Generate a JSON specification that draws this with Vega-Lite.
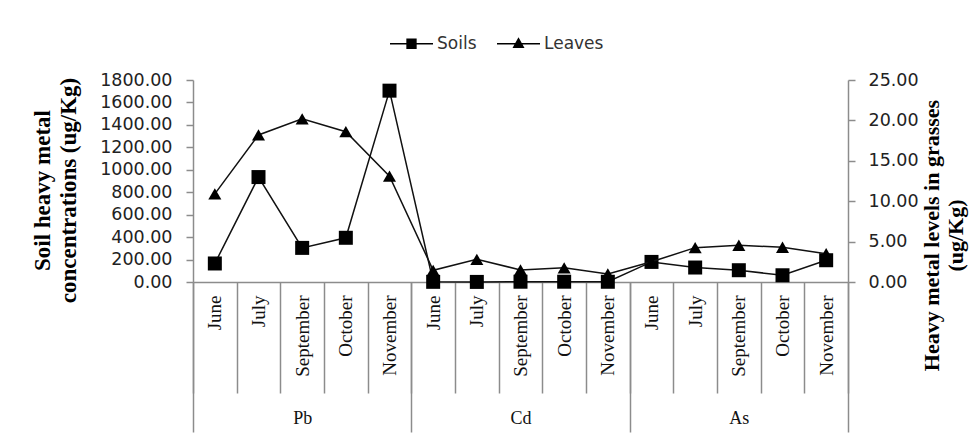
{
  "$schema": "https://vega.github.io/schema/vega-lite/v6.json",
  "width": 655,
  "height": 202,
  "autosize": {"type": "none"},
  "padding": {"left": 193, "top": 80, "right": 124, "bottom": 152},
  "background": "white",
  "config": {
    "view": {"stroke": null},
    "axis": {"domainColor": "#8c8c8c", "tickColor": "#8c8c8c", "domainWidth": 1.5, "tickWidth": 1.5, "grid": false}
  },
  "datasets": {
    "chart": [
      {"metal": "Pb", "month": "June", "cat": "Pb June", "soils": 165, "leaves": 10.9},
      {"metal": "Pb", "month": "July", "cat": "Pb July", "soils": 935, "leaves": 18.2},
      {"metal": "Pb", "month": "September", "cat": "Pb September", "soils": 304, "leaves": 20.2},
      {"metal": "Pb", "month": "October", "cat": "Pb October", "soils": 394, "leaves": 18.6},
      {"metal": "Pb", "month": "November", "cat": "Pb November", "soils": 1705, "leaves": 13.1},
      {"metal": "Cd", "month": "June", "cat": "Cd June", "soils": 1.5, "leaves": 1.45},
      {"metal": "Cd", "month": "July", "cat": "Cd July", "soils": 0.8, "leaves": 2.8},
      {"metal": "Cd", "month": "September", "cat": "Cd September", "soils": 2.5, "leaves": 1.5},
      {"metal": "Cd", "month": "October", "cat": "Cd October", "soils": 2.6, "leaves": 1.75},
      {"metal": "Cd", "month": "November", "cat": "Cd November", "soils": 2.1, "leaves": 1.0},
      {"metal": "As", "month": "June", "cat": "As June", "soils": 179, "leaves": 2.5},
      {"metal": "As", "month": "July", "cat": "As July", "soils": 129, "leaves": 4.25},
      {"metal": "As", "month": "September", "cat": "As September", "soils": 105, "leaves": 4.55},
      {"metal": "As", "month": "October", "cat": "As October", "soils": 60, "leaves": 4.3},
      {"metal": "As", "month": "November", "cat": "As November", "soils": 194, "leaves": 3.5}
    ],
    "series": [{"series": "Soils"}, {"series": "Leaves"}]
  },
  "layer": [
    {
      "data": {"name": "chart"},
      "encoding": {
        "x": {
          "field": "cat", "type": "nominal", "sort": null,
          "scale": {"type": "band", "paddingInner": 0, "paddingOuter": 0},
          "axis": {
            "title": null, "orient": "bottom", "tickBand": "extent", "tickSize": 111,
            "labelAngle": -90, "labelAlign": "right", "labelBaseline": "middle",
            "labelPadding": -98, "labelFont": "Liberation Serif", "labelFontSize": 19,
            "labelColor": "#111", "labelOverlap": false, "labelBound": false,
            "labelExpr": "split(datum.label, ' ')[1]"
          }
        },
        "y": {
          "field": "soils", "type": "quantitative",
          "scale": {"domain": [0, 1800], "nice": false, "zero": true},
          "axis": {
            "orient": "left", "values": [0, 200, 400, 600, 800, 1000, 1200, 1400, 1600, 1800],
            "format": ".2f", "tickSize": 7, "labelPadding": 14,
            "labelFont": "DejaVu Sans", "labelFontSize": 17.5, "labelColor": "#222",
            "title": ["Soil heavy metal", "concentrations  (ug/Kg)"],
            "titleFont": "Liberation Serif", "titleFontSize": 23, "titleFontWeight": "bold",
            "titleColor": "#000", "titleAngle": -90, "titleAlign": "center", "titleBaseline": "top",
            "titleX": -162, "titleY": 110, "titleLineHeight": 26
          }
        }
      },
      "layer": [
        {"mark": {"type": "line", "color": "#111", "strokeWidth": 1.5}},
        {"mark": {"type": "point", "shape": "square", "filled": true, "size": 196, "color": "#000", "opacity": 1}}
      ]
    },
    {
      "data": {"name": "chart"},
      "encoding": {
        "x": {
          "field": "cat", "type": "nominal", "sort": null,
          "scale": {"type": "band", "paddingInner": 0, "paddingOuter": 0},
          "axis": null
        },
        "y": {
          "field": "leaves", "type": "quantitative",
          "scale": {"domain": [0, 25], "nice": false, "zero": true},
          "axis": {
            "orient": "right", "values": [0, 5, 10, 15, 20, 25],
            "format": ".2f", "tickSize": 7, "labelPadding": 13,
            "labelFont": "DejaVu Sans", "labelFontSize": 17.5, "labelColor": "#222",
            "title": ["Heavy metal levels in  grasses", "(ug/Kg)"],
            "titleFont": "Liberation Serif", "titleFontSize": 22, "titleFontWeight": "bold",
            "titleColor": "#000", "titleAngle": -90, "titleAlign": "center", "titleBaseline": "top",
            "titleX": 73, "titleY": 155, "titleLineHeight": 24
          }
        }
      },
      "layer": [
        {"mark": {"type": "line", "color": "#111", "strokeWidth": 1.5}},
        {"mark": {"type": "point", "shape": "triangle-up", "filled": true, "size": 170, "color": "#000", "opacity": 1}}
      ]
    },
    {
      "data": {"name": "chart"},
      "mark": {"type": "point", "opacity": 0},
      "encoding": {
        "x": {
          "field": "metal", "type": "nominal", "sort": null,
          "scale": {"type": "band", "paddingInner": 0, "paddingOuter": 0},
          "axis": {
            "title": null, "orient": "bottom", "domain": false, "tickBand": "extent", "tickSize": 150,
            "labelAngle": 0, "labelPadding": -23, "labelFont": "Liberation Serif", "labelFontSize": 18,
            "labelColor": "#111", "labelBaseline": "top"
          }
        }
      }
    },
    {
      "data": {"name": "series"},
      "mark": {"type": "point", "opacity": 0, "filled": true, "color": "#000"},
      "encoding": {
        "shape": {
          "field": "series", "type": "nominal", "sort": null,
          "scale": {
            "domain": ["Soils", "Leaves"],
            "range": [
              "M-1,-0.035H1V0.035H-1ZM-0.24,-0.24H0.24V0.24H-0.24Z",
              "M-1,-0.035H1V0.035H-1ZM0,-0.3L0.28,0.2L-0.28,0.2Z"
            ]
          },
          "legend": {
            "title": null, "orient": "none", "legendX": 197, "legendY": -58, "direction": "horizontal",
            "labelFont": "DejaVu Sans", "labelFontSize": 17, "labelColor": "#333",
            "labelOffset": 4, "columnPadding": 20, "symbolSize": 1849,
            "symbolFillColor": "#000", "symbolStrokeColor": "#000", "symbolStrokeWidth": 0,
            "encode": {
              "symbols": {
                "update": {
                  "opacity": {"value": 1}, "fill": {"value": "#000"}, "fillOpacity": {"value": 1},
                  "size": {"value": 1849}
                }
              }
            }
          }
        }
      }
    }
  ],
  "resolve": {"scale": {"x": "independent", "y": "independent", "shape": "independent"}}
}
